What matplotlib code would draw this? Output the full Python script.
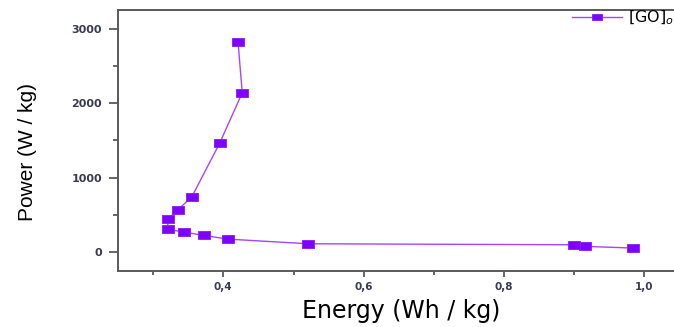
import numpy as np
import matplotlib
matplotlib.use('Agg')
import matplotlib.pyplot as plt
from matplotlib.ticker import FixedLocator, FuncFormatter

# Ragone data
energy = [0.983, 0.915, 0.900, 0.521, 0.406, 0.372, 0.344, 0.321,
          0.321, 0.335, 0.355, 0.395, 0.427, 0.421]
power = [58, 80, 102, 115, 178, 228, 272, 309,
         443, 568, 742, 1467, 2141, 2818]
series_label = r'[GO]$_{o}$'

x_major = [0.4, 0.6, 0.8, 1.0]
x_minor = [0.3, 0.5, 0.7, 0.9]
y_major = [0, 1000, 2000, 3000]
y_minor = [500, 1500, 2500]

W, H = 674, 327
fig = plt.figure(figsize=(W / 100, H / 100), dpi=100)
ax = fig.add_axes([118 / W, 1 - 271 / H, 560 / W, 261 / H])

# wide, flat square marker like the original export
rect = [(-1, -0.62), (1, -0.62), (1, 0.62), (-1, 0.62), (-1, -0.62)]
ax.plot(energy, power, color='#a546ff', lw=1.0, marker=rect, ms=9.2,
        mfc='#7f00ff', mec='#8a1aff', mew=0.6, label=series_label)

ax.set_xlim(0.25, 0.25 + 560 / 702)
ax.set_ylim(-250, 3250)

ax.xaxis.set_major_locator(FixedLocator(x_major))
ax.xaxis.set_minor_locator(FixedLocator(x_minor))
ax.yaxis.set_major_locator(FixedLocator(y_major))
ax.yaxis.set_minor_locator(FixedLocator(y_minor))
ax.xaxis.set_major_formatter(FuncFormatter(lambda v, p: f'{v:.1f}'.replace('.', ',')))
ax.yaxis.set_major_formatter(FuncFormatter(lambda v, p: f'{v:.0f}'))

spine_c = '#5a5a5a'
for s in ['left', 'bottom', 'top']:
    ax.spines[s].set_color(spine_c)
    ax.spines[s].set_linewidth(1.4)
ax.spines['right'].set_visible(False)

ax.tick_params(axis='x', which='major', direction='out', length=4.2, width=1.3,
               color=spine_c, pad=4.0, labelsize=7.5, labelcolor='#3a3a50')
ax.tick_params(axis='x', which='minor', direction='out', length=2.8, width=1.3,
               color=spine_c)
ax.tick_params(axis='y', which='major', direction='out', length=6.5, width=1.3,
               color=spine_c, pad=5.0, labelsize=8, labelcolor='#3a3a50')
ax.tick_params(axis='y', which='minor', direction='out', length=3.6, width=1.3,
               color=spine_c)
for lab in ax.get_xticklabels() + ax.get_yticklabels():
    lab.set_fontweight('bold')
    lab.set_family('DejaVu Sans')

ax.set_xlabel('Energy (Wh / kg)', fontsize=17, family='DejaVu Sans', va='center')
ax.xaxis.set_label_coords(0.505, -0.153)
ax.set_ylabel('Power (W / kg)', fontsize=15, family='Liberation Sans', va='center')
ax.yaxis.set_label_coords(-0.161, 0.456)

ax.legend(loc='center left', bbox_to_anchor=((572 - 118) / 560, (271 - 18) / 261),
          frameon=False, borderpad=0, borderaxespad=0, handlelength=3.1,
          handletextpad=0.4, markerscale=0.85,
          prop={'family': 'DejaVu Sans', 'size': 11.5})

fig.savefig('out.png', dpi=100)
